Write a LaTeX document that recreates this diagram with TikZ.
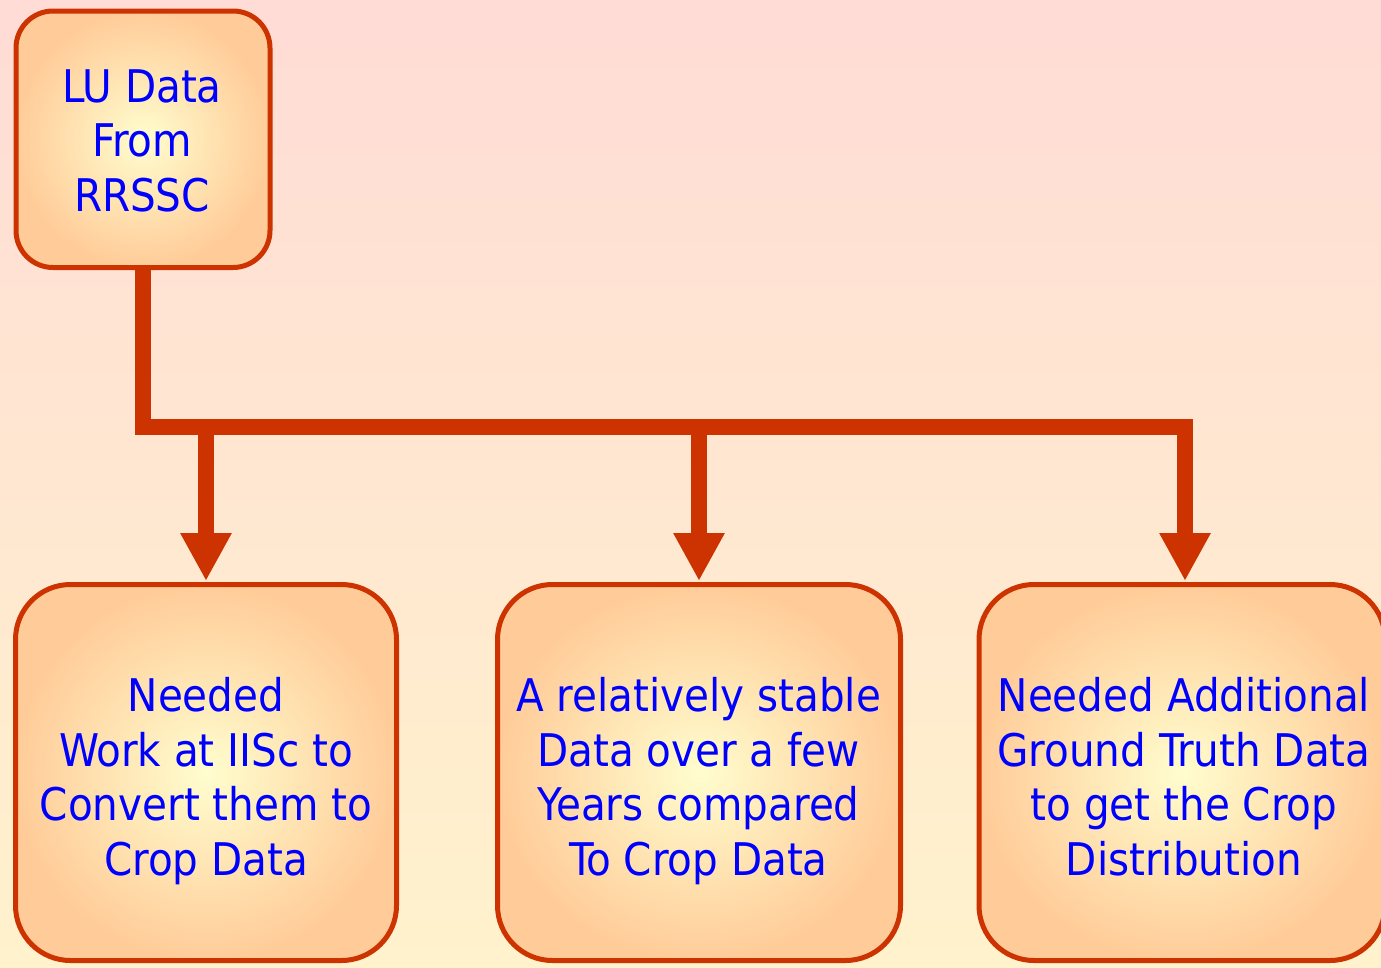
\documentclass[tikz,border=0pt]{standalone}
\usepackage{fontspec}
\setmainfont{DejaVu Sans Condensed}
\usetikzlibrary{arrows.meta}
\definecolor{bordc}{RGB}{204,51,0}
\definecolor{txtc}{RGB}{0,0,255}
\definecolor{boxin}{RGB}{255,253,206}
\definecolor{boxout}{RGB}{255,204,153}
\definecolor{bgtop}{RGB}{255,220,214}
\definecolor{bgbot}{RGB}{255,242,204}
\tikzset{
  box/.style={rectangle, draw=bordc, line width=5pt, inner color=boxin, outer color=boxout},
  topbox/.style={box, rounded corners=37pt, minimum width=254pt, minimum height=256.5pt},
  lowbox/.style={box, rounded corners=55pt, minimum height=376pt},
  txt/.style={text=txtc, align=center, inner sep=0pt, font=\fontsize{45pt}{54.5pt}\selectfont},
  conn/.style={draw=bordc, line width=16pt, line join=miter},
  tip/.style={-{Triangle[width=48pt,length=48pt]}}
}
\begin{document}
\begin{tikzpicture}[x=1pt,y=-1pt]
\useasboundingbox (0,0) rectangle (1381,967);
\fill[top color=bgtop, bottom color=bgbot] (0,0) rectangle (1381,967);
\node[topbox] (lu) at (143,139.25) {};
\node[lowbox, minimum width=381pt] (b1) at (206,772.5) {};
\node[lowbox, minimum width=403pt] (b2) at (699,772.5) {};
\node[lowbox, minimum width=406pt] (b3) at (1182,772.5) {};
\node[txt] (t0) at (142,145.6) {\strut LU Data\\From\\RRSSC\strut};
\node[txt] (t1) at (206,782.8) {\strut Needed\\Work at IISc to\\Convert them to\\Crop Data\strut};
\node[txt] (t2) at (698.5,782.8) {\strut A relatively stable\\Data over a few\\Years compared\\To Crop Data\strut};
\node[txt] (t3) at (1184,782.8) {\strut Needed Additional\\Ground Truth Data\\to get the Crop\\Distribution\strut};
\coordinate (j) at (143,427);
\coordinate (s1) at (206,427);
\coordinate (s2) at (699,427);
\coordinate (a1) at (206,581);
\coordinate (a2) at (699,581);
\coordinate (a3) at (1185,581);
\draw[conn, tip] (lu.south) -- (j) -| (a3);
\draw[conn, tip] (s1) -- (a1);
\draw[conn, tip] (s2) -- (a2);
\end{tikzpicture}
\end{document}
